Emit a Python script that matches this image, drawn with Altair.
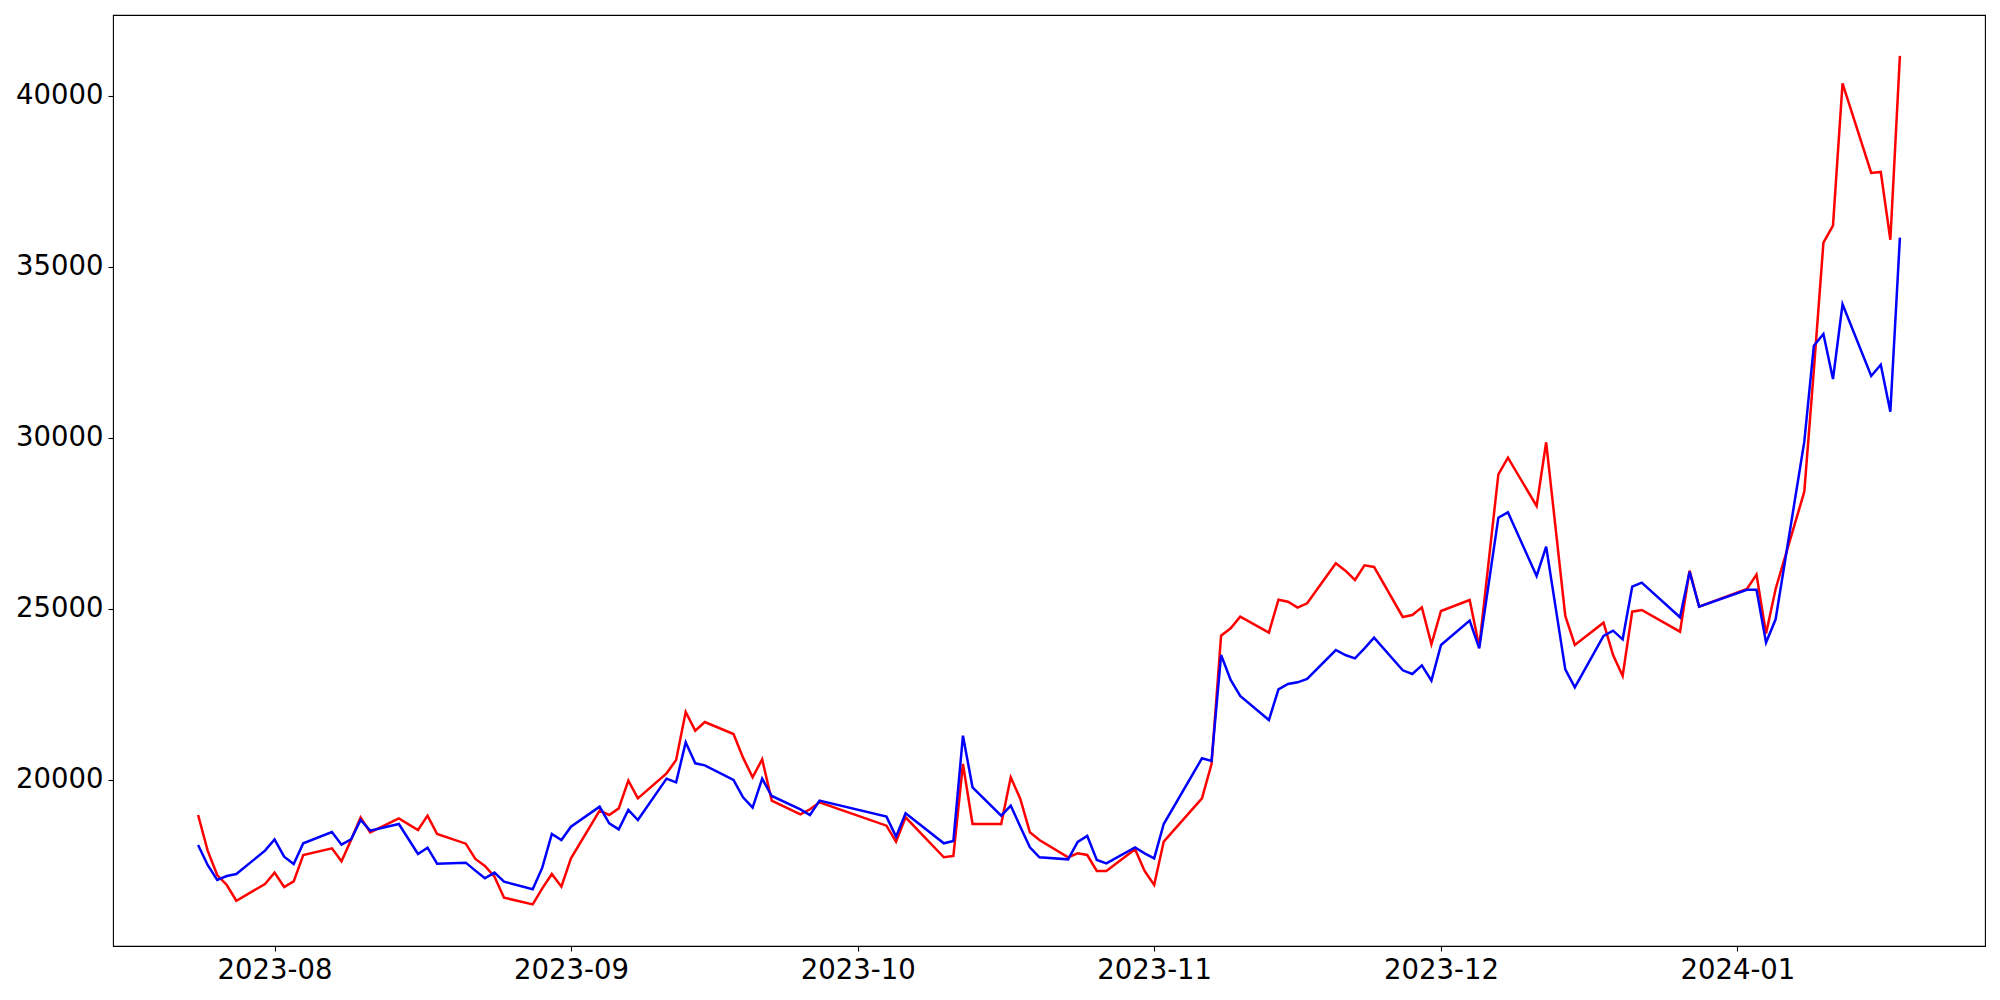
import altair as alt
import pandas as pd

dates = [
    "2023-07-24", "2023-07-25", "2023-07-26", "2023-07-27", "2023-07-28", "2023-07-31",
    "2023-08-01", "2023-08-02", "2023-08-03", "2023-08-04", "2023-08-07", "2023-08-08",
    "2023-08-09", "2023-08-10", "2023-08-11", "2023-08-14", "2023-08-16", "2023-08-17",
    "2023-08-18", "2023-08-21", "2023-08-22", "2023-08-23", "2023-08-24", "2023-08-25",
    "2023-08-28", "2023-08-29", "2023-08-30", "2023-08-31", "2023-09-01", "2023-09-04",
    "2023-09-05", "2023-09-06", "2023-09-07", "2023-09-08", "2023-09-11", "2023-09-12",
    "2023-09-13", "2023-09-14", "2023-09-15", "2023-09-18", "2023-09-19", "2023-09-20",
    "2023-09-21", "2023-09-22", "2023-09-25", "2023-09-26", "2023-09-27", "2023-10-04",
    "2023-10-05", "2023-10-06", "2023-10-10", "2023-10-11", "2023-10-12", "2023-10-13",
    "2023-10-16", "2023-10-17", "2023-10-18", "2023-10-19", "2023-10-20", "2023-10-23",
    "2023-10-24", "2023-10-25", "2023-10-26", "2023-10-27", "2023-10-30", "2023-10-31",
    "2023-11-01", "2023-11-02", "2023-11-06", "2023-11-07", "2023-11-08", "2023-11-09",
    "2023-11-10", "2023-11-13", "2023-11-14", "2023-11-15", "2023-11-16", "2023-11-17",
    "2023-11-20", "2023-11-21", "2023-11-22", "2023-11-23", "2023-11-24", "2023-11-27",
    "2023-11-28", "2023-11-29", "2023-11-30", "2023-12-01", "2023-12-04", "2023-12-05",
    "2023-12-07", "2023-12-08", "2023-12-11", "2023-12-12", "2023-12-14", "2023-12-15",
    "2023-12-18", "2023-12-19", "2023-12-20", "2023-12-21", "2023-12-22", "2023-12-26",
    "2023-12-27", "2023-12-28", "2024-01-02", "2024-01-03", "2024-01-04", "2024-01-05",
    "2024-01-08", "2024-01-09", "2024-01-10", "2024-01-11", "2024-01-12", "2024-01-15",
    "2024-01-16", "2024-01-17", "2024-01-18",
]

red_values = [
    18977, 17934, 17222, 16930, 16470, 16959,
    17290, 16871, 17037, 17807, 18002, 17622,
    18246, 18908, 18470, 18879, 18538, 18957,
    18421, 18138, 17690, 17485, 17173, 16559,
    16364, 16832, 17251, 16881, 17710, 19103,
    18977, 19171, 19981, 19464, 20195, 20585,
    21988, 21443, 21696, 21345, 20653, 20078,
    20604, 19396, 18997, 19143, 19348, 18664,
    18197, 18909, 17740, 17778, 20468, 18713,
    18713, 20078, 19444, 18470, 18246, 17739,
    17856, 17807, 17339, 17339, 17973, 17339,
    16930, 18200, 19465, 20468, 24220, 24435,
    24776, 24308, 25273, 25214, 25039, 25166,
    26336, 26121, 25848, 26277, 26228, 24766,
    24825, 25049, 23967, 24942, 25263, 23899,
    28938, 29425, 28012, 29874, 24795, 23947,
    24600, 23655, 23041, 24922, 24971, 24337,
    26121, 25068, 25585, 26006, 24281, 25585,
    28430, 31990, 35711, 36209, 40370, 37751,
    37778, 35795, 41172,
]

blue_values = [
    18099, 17514, 17076, 17193, 17251, 17934,
    18265, 17758, 17544, 18148, 18479, 18109,
    18265, 18830, 18518, 18713, 17836, 18021,
    17554, 17583, 17349, 17125, 17290, 17027,
    16803, 17437, 18421, 18246, 18635, 19220,
    18733, 18557, 19123, 18830, 20039, 19932,
    21101, 20487, 20429, 20000, 19493, 19191,
    20039, 19532, 19142, 18977, 19396, 18928,
    18343, 19026, 18149, 18217, 21296, 19786,
    18957, 19249, 18635, 18031, 17739, 17680,
    18187, 18363, 17661, 17563, 18031, 17856,
    17710, 18713, 20634, 20556, 23655, 22924,
    22456, 21754, 22652, 22807, 22856, 22953,
    23801, 23655, 23558, 23850, 24162, 23207,
    23099, 23353, 22904, 23947, 24659, 23850,
    27670, 27827, 25965, 26823, 23236, 22710,
    24211, 24366, 24113, 25653, 25770, 24757,
    26092, 25068, 25561, 25561, 24020, 24699,
    29892, 32699, 33041, 31725, 33909, 31813,
    32140, 30769, 35860,
]

x_ticks = [(2023, 8), (2023, 9), (2023, 10), (2023, 11), (2023, 12), (2024, 1)]
y_ticks = [20000, 25000, 30000, 35000, 40000]

df_red = pd.DataFrame({"date": dates, "value": red_values})
df_blue = pd.DataFrame({"date": dates, "value": blue_values})

x_enc = alt.X(
    "date:T",
    title=None,
    scale=alt.Scale(
        type="utc",
        domain=[
            alt.DateTime(year=2023, month=7, date=15, hours=2, minutes=24, utc=True),
            alt.DateTime(year=2024, month=1, date=26, hours=21, minutes=36, utc=True),
        ],
        nice=False,
    ),
    axis=alt.Axis(
        values=[alt.DateTime(year=y, month=m, date=1, utc=True) for y, m in x_ticks],
        format="%Y-%m",
        labelFlush=False,
        labelOverlap=False,
    ),
)
y_enc = alt.Y(
    "value:Q",
    title=None,
    scale=alt.Scale(domain=[15146, 42368], nice=False, zero=False),
    axis=alt.Axis(values=y_ticks, format="d", labelOverlap=False),
)

red = alt.Chart(df_red).mark_line(color="#ff0000", strokeWidth=2.5).encode(x=x_enc, y=y_enc)
blue = alt.Chart(df_blue).mark_line(color="#0000ff", strokeWidth=2.5).encode(x=x_enc, y=y_enc)

chart = (
    alt.layer(red, blue)
    .properties(
        width=1872,
        height=931,
        autosize=alt.AutoSizeParams(type="none"),
        padding={"left": 105, "top": 7, "right": 7, "bottom": 46},
        background="white",
    )
    .configure_view(stroke="black", strokeWidth=1.1)
    .configure_axis(
        domain=False,
        grid=False,
        tickColor="black",
        tickSize=5,
        tickWidth=1.1,
        labelFont="DejaVu Sans",
        labelFontSize=27.5,
        labelColor="black",
        labelPadding=5,
    )
)

chart.save("out.html", embed_options={"renderer": "svg", "actions": False})
